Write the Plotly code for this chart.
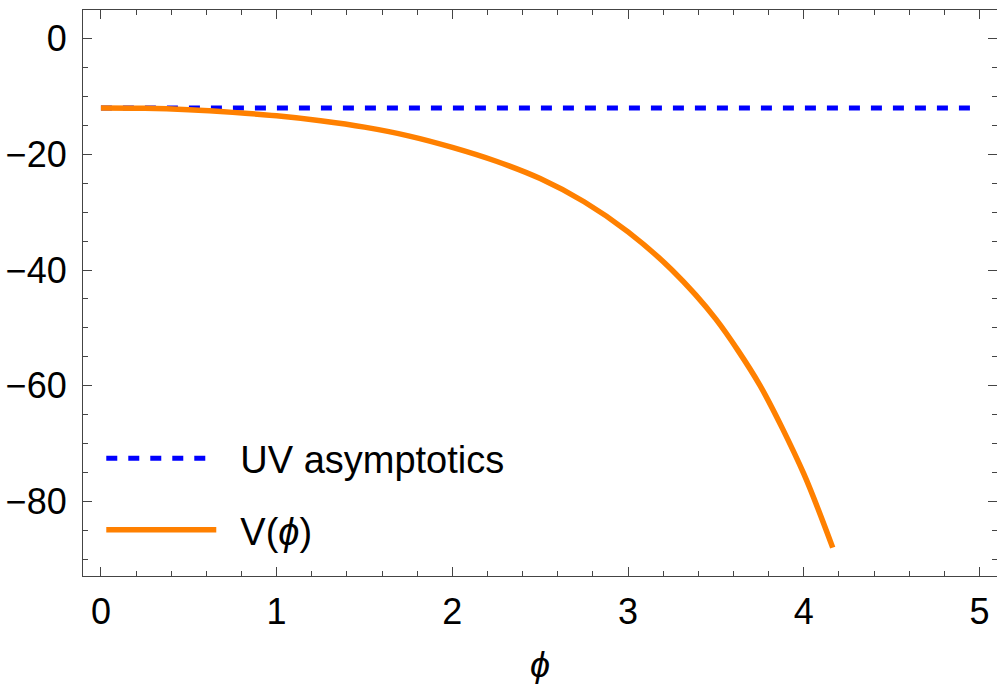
import plotly.graph_objects as go

# Potential V(phi) sampled along the field range
phi = [0.0, 0.25, 0.5, 0.75, 1.0, 1.25, 1.5, 1.75, 2.0, 2.25, 2.5, 2.75,
       3.0, 3.25, 3.5, 3.75, 4.0, 4.165]
V = [-12.0, -12.05, -12.3, -12.75, -13.35, -14.2, -15.3, -16.8, -18.8, -21.2,
     -24.2, -28.2, -33.4, -40.0, -48.5, -59.9, -75.2, -88.0]

# UV asymptotic value (constant)
uv_phi = [0.0, 5.0]
uv_V = [-12.0, -12.0]

x_ticks = [0, 1, 2, 3, 4, 5]
y_ticks = [0, -20, -40, -60, -80]

FONT = "Liberation Sans, Arial, sans-serif"
GAP = "\u2002"

fig = go.Figure()
fig.add_trace(go.Scatter(
    x=uv_phi, y=uv_V, mode="lines", name=GAP + "UV asymptotics",
    legendgroup="a",
    line=dict(color="#0000FF", width=5, dash="11px,11px"),
))
fig.add_trace(go.Scatter(
    x=phi, y=V, mode="lines", name=GAP + "V(<i>ϕ</i>)",
    legendgroup="b",
    line=dict(color="#FF8000", width=5.5, shape="spline", smoothing=0.8),
))

axis_common = dict(
    showline=True, linecolor="#444444", linewidth=1.2, mirror="ticks",
    ticks="inside", ticklen=9, tickwidth=1.2, tickcolor="#444444",
    showgrid=False, zeroline=False,
    tickfont=dict(family=FONT, size=36, color="black"),
)

fig.update_xaxes(
    range=[-0.102, 5.1], tickvals=x_ticks,
    minor=dict(ticks="inside", ticklen=5, tickwidth=1, tickcolor="#444444", dtick=0.2),
    title=dict(text="<i>ϕ</i>", font=dict(family=FONT, size=36, color="black"), standoff=22),
    ticklabelstandoff=4,
    **axis_common,
)
fig.update_yaxes(
    range=[-92.9, 4.95], tickvals=y_ticks,
    minor=dict(ticks="inside", ticklen=5, tickwidth=1, tickcolor="#444444", dtick=5),
    ticklabelstandoff=8,
    **axis_common,
)

fig.update_layout(
    width=997, height=685,
    margin=dict(l=83, r=0, t=10, b=109),
    plot_bgcolor="white", paper_bgcolor="white",
    legend=dict(
        x=0.02, y=0.263, xanchor="left", yanchor="top",
        font=dict(family=FONT, size=38, color="black"),
        bgcolor="rgba(0,0,0,0)", itemwidth=110, tracegroupgap=19,
    ),
)

fig.write_html("out.html")
